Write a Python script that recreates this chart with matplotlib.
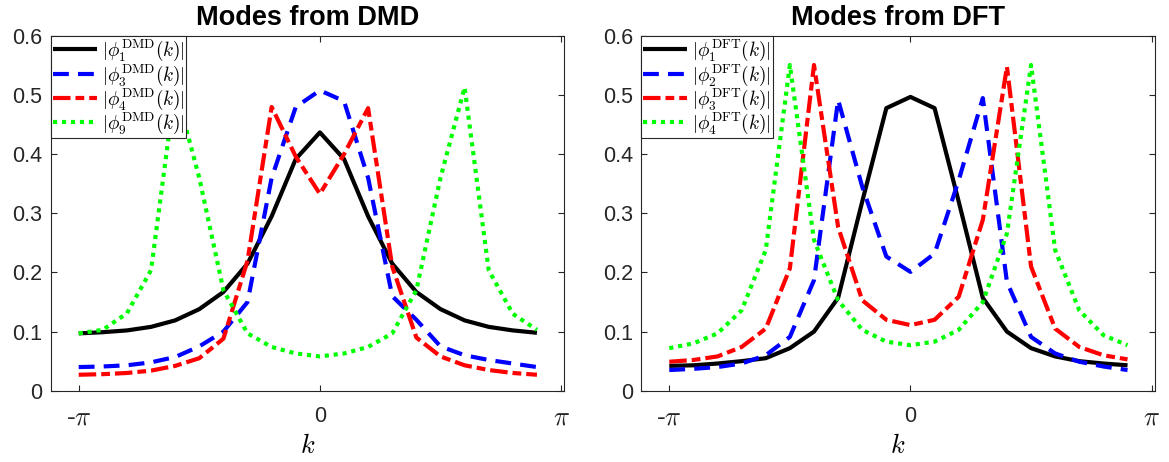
import numpy as np
import matplotlib
matplotlib.use("Agg")
import matplotlib.pyplot as plt

plt.rcParams["font.family"] = ["Liberation Sans", "DejaVu Sans"]
plt.rcParams["mathtext.fontset"] = "cm"

# Wavenumber grid: 20 equispaced samples on [-pi, pi)
n_k = 20
k = -np.pi + 2 * np.pi * np.arange(n_k) / n_k

# |phi| of the DMD modes
dmd_1 = [0.097, 0.099, 0.102, 0.108, 0.119, 0.138, 0.167, 0.215, 0.295, 0.392,
         0.437, 0.392, 0.295, 0.215, 0.167, 0.138, 0.119, 0.108, 0.102, 0.098]
dmd_3 = [0.040, 0.041, 0.043, 0.048, 0.057, 0.075, 0.100, 0.150, 0.360, 0.480,
         0.508, 0.490, 0.360, 0.160, 0.120, 0.075, 0.060, 0.052, 0.046, 0.040]
dmd_4 = [0.027, 0.028, 0.030, 0.034, 0.042, 0.055, 0.088, 0.220, 0.480, 0.396,
         0.333, 0.400, 0.478, 0.210, 0.090, 0.058, 0.043, 0.035, 0.030, 0.027]
dmd_9 = [0.097, 0.103, 0.131, 0.204, 0.513, 0.360, 0.170, 0.097, 0.074, 0.063,
         0.058, 0.063, 0.074, 0.097, 0.170, 0.360, 0.513, 0.204, 0.130, 0.103]

# |phi| of the DFT modes
dft_1 = [0.042, 0.043, 0.046, 0.050, 0.055, 0.072, 0.100, 0.157, 0.320, 0.478,
         0.497, 0.478, 0.320, 0.157, 0.100, 0.072, 0.058, 0.050, 0.046, 0.043]
dft_2 = [0.035, 0.037, 0.040, 0.046, 0.060, 0.091, 0.187, 0.492, 0.345, 0.227,
         0.201, 0.232, 0.356, 0.495, 0.184, 0.091, 0.063, 0.049, 0.041, 0.035]
dft_3 = [0.049, 0.052, 0.058, 0.074, 0.105, 0.207, 0.551, 0.277, 0.153, 0.120,
         0.111, 0.120, 0.159, 0.289, 0.548, 0.210, 0.105, 0.074, 0.060, 0.053]
dft_4 = [0.072, 0.080, 0.097, 0.136, 0.238, 0.551, 0.255, 0.153, 0.103, 0.083,
         0.077, 0.083, 0.103, 0.150, 0.266, 0.551, 0.238, 0.136, 0.094, 0.077]

dmd_labels = [r"$|\phi_1^{\mathrm{DMD}}(k)|$", r"$|\phi_3^{\mathrm{DMD}}(k)|$",
              r"$|\phi_4^{\mathrm{DMD}}(k)|$", r"$|\phi_9^{\mathrm{DMD}}(k)|$"]
dft_labels = [r"$|\phi_1^{\mathrm{DFT}}(k)|$", r"$|\phi_2^{\mathrm{DFT}}(k)|$",
              r"$|\phi_3^{\mathrm{DFT}}(k)|$", r"$|\phi_4^{\mathrm{DFT}}(k)|$"]

y_ticks = [0, 0.1, 0.2, 0.3, 0.4, 0.5, 0.6]
y_ticklabels = ["0", "0.1", "0.2", "0.3", "0.4", "0.5", "0.6"]
x_ticks = [-np.pi, 0, np.pi]
x_ticklabels = [r"-$\pi$", "0", r"$\pi$"]

LW = 3.0
styles = [
    dict(color="black", linestyle="-"),
    dict(color=(0, 0, 1), linestyle=(0, (3.8, 2.2))),
    dict(color=(1, 0, 0), linestyle=(0, (4.2, 1.2, 2.1, 1.2))),
    dict(color=(0, 1, 0), linestyle=(0, (1.0, 1.15))),
]

fig = plt.figure(figsize=(11.69, 4.62), dpi=100)
ax_l = fig.add_axes([0.0434, 0.1543, 0.4394, 0.7677])
ax_r = fig.add_axes([0.5486, 0.1543, 0.4394, 0.7677])

edge = "#262626"


def draw(ax, series, labels, title):
    for y, lab, st in zip(series, labels, styles):
        ax.plot(k, y, lw=LW, label=lab, dash_capstyle="butt",
                solid_capstyle="butt", **st)
    ax.set_xlim(-3.506, 3.185)
    ax.set_ylim(0, 0.6)
    ax.set_yticks(y_ticks)
    ax.set_yticklabels(y_ticklabels)
    ax.set_xticks(x_ticks)
    ax.set_xticklabels(x_ticklabels)
    ax.tick_params(direction="in", top=True, right=True, length=4.5,
                   width=0.8, colors=edge, labelsize=15.5)
    ax.tick_params(axis="y", pad=6)
    ax.tick_params(axis="x", pad=11)
    for t in ax.get_xticklabels():
        if "pi" in t.get_text():
            t.set_fontsize(19)
    for s in ax.spines.values():
        s.set_color(edge)
        s.set_linewidth(0.8)
    ax.set_xlabel(r"$k$", fontsize=19, labelpad=3)
    ax.set_title(title, fontsize=19.5, fontweight="bold", pad=8)
    leg = ax.legend(loc="upper left", bbox_to_anchor=(0, 1), borderaxespad=0,
                    fontsize=13.8, handlelength=2.3, handletextpad=0.25,
                    labelspacing=-0.05, borderpad=0.1, fancybox=False,
                    framealpha=1, edgecolor=edge)
    leg.get_frame().set_linewidth(0.8)


draw(ax_l, [dmd_1, dmd_3, dmd_4, dmd_9], dmd_labels, "Modes from DMD")
draw(ax_r, [dft_1, dft_2, dft_3, dft_4], dft_labels, "Modes from DFT")

fig.savefig("out.png", dpi=100)
